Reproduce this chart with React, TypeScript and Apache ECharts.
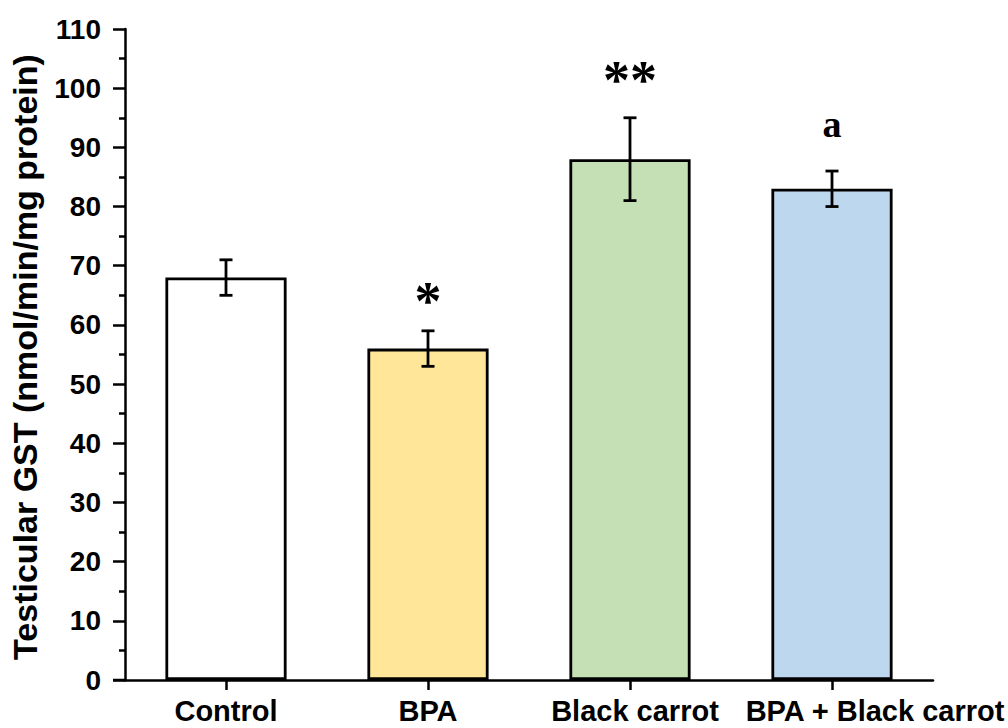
import React, { useEffect, useRef } from "react";
import * as echarts from "echarts";

const categories = ["Control", "BPA", "Black carrot", "BPA + Black carrot"];
const means = [68, 56, 88, 83];
const errors = [3, 3, 7, 3];
const barColors = ["#FFFFFF", "#FFE699", "#C5E0B4", "#BDD7EE"];
const annotations = ["", "*", "**", "a"];
const annotationY = [0, 64, 101.3, 94];
const yTicks = { min: 0, max: 110, interval: 10 };

const SANS = "'Liberation Sans', Arial, sans-serif";
const SERIF = "'Liberation Serif', 'Times New Roman', serif";

export default function App() {
  const ref = useRef<HTMLDivElement>(null);
  useEffect(() => {
    if (!ref.current) return;
    const chart = echarts.init(ref.current, null, { renderer: "svg" });
    const option = {
      animation: false,
      backgroundColor: "#FFFFFF",
      grid: { left: 125, right: 75, top: 29, bottom: 48, containLabel: false },
      xAxis: {
        type: "category",
        data: categories,
        boundaryGap: true,
        axisLine: { show: true, lineStyle: { color: "#000", width: 2.5 } },
        axisTick: { show: true, alignWithLabel: true, length: 10, lineStyle: { color: "#000", width: 2.5 } },
        axisLabel: {
          interval: 0,
          margin: 16,
          color: "#000",
          fontSize: 29,
          fontWeight: "bold",
          fontFamily: SANS,
          formatter: (v: string, i: number) => {
            if (i === 3) return "{last|" + v + "}";
            if (i === 2) return "{third|" + v + "}";
            return v;
          },
          rich: {
            last: { padding: [0, 0, 0, 86], fontSize: 29, fontWeight: "bold", fontFamily: SANS, color: "#000" },
            third: { padding: [0, 0, 0, 10], fontSize: 29, fontWeight: "bold", fontFamily: SANS, color: "#000" },
          },
        },
        splitLine: { show: false },
      },
      yAxis: {
        type: "value",
        min: yTicks.min,
        max: yTicks.max,
        interval: yTicks.interval,
        axisLine: { show: true, lineStyle: { color: "#000", width: 2.5 } },
        axisTick: { show: true, length: 12, lineStyle: { color: "#000", width: 2.5 } },
        minorTick: { show: true, splitNumber: 2, length: 6, lineStyle: { color: "#000", width: 2.5 } },
        axisLabel: {
          margin: 24,
          color: "#000",
          fontSize: 28,
          fontWeight: "bold",
          fontFamily: SANS,
        },
        splitLine: { show: false },
        minorSplitLine: { show: false },
      },
      graphic: [
        {
          type: "line",
          shape: { x1: 113, y1: 680, x2: 126, y2: 680 },
          style: { stroke: "#000", lineWidth: 2.5 },
          z: 10,
        },
        {
          type: "text",
          x: 25,
          y: 357,
          rotation: Math.PI / 2,
          style: {
            text: "Testicular GST (nmol/min/mg protein)",
            fill: "#000",
            fontSize: 34,
            fontWeight: "bold",
            fontFamily: SANS,
            align: "center",
            verticalAlign: "middle",
          },
        },
      ],
      series: [
        {
          type: "bar",
          data: means.map((v, i) => ({ value: v, itemStyle: { color: barColors[i] } })),
          barWidth: "60%",
          itemStyle: { borderColor: "#000", borderWidth: 2.8 },
          z: 2,
        },
        {
          type: "custom",
          data: means.map((v, i) => [i, v, errors[i]]),
          z: 5,
          renderItem: (params: any, api: any) => {
            const x = api.value(0);
            const v = api.value(1);
            const e = api.value(2);
            const top = api.coord([x, v + e]);
            const bot = api.coord([x, v - e]);
            const hw = 6.5;
            const style = { stroke: "#000", lineWidth: 2.8 };
            return {
              type: "group",
              children: [
                { type: "line", shape: { x1: top[0], y1: top[1], x2: bot[0], y2: bot[1] }, style },
                { type: "line", shape: { x1: top[0] - hw, y1: top[1], x2: top[0] + hw, y2: top[1] }, style },
                { type: "line", shape: { x1: bot[0] - hw, y1: bot[1], x2: bot[0] + hw, y2: bot[1] }, style },
              ],
            };
          },
        },
        {
          type: "custom",
          data: annotations.map((t, i) => [i, annotationY[i], t]),
          z: 6,
          renderItem: (params: any, api: any) => {
            const idx = params.dataIndex;
            const t = annotations[idx];
            if (!t) return null;
            const p = api.coord([api.value(0), api.value(1)]);
            const isStar = t.indexOf("*") >= 0;
            return {
              type: "text",
              x: p[0],
              y: p[1],
              style: {
                text: t,
                fill: "#000",
                fontSize: isStar ? 54 : 38,
                fontWeight: "bold",
                fontFamily: SERIF,
                align: "center",
                verticalAlign: "middle",
              },
            };
          },
        },
      ],
    };
    chart.setOption(option as any);
    return () => chart.dispose();
  }, []);
  return (
    <div
      ref={ref}
      style={{ position: "absolute", left: 0, top: 0, width: 1008, height: 728 }}
    />
  );
}
